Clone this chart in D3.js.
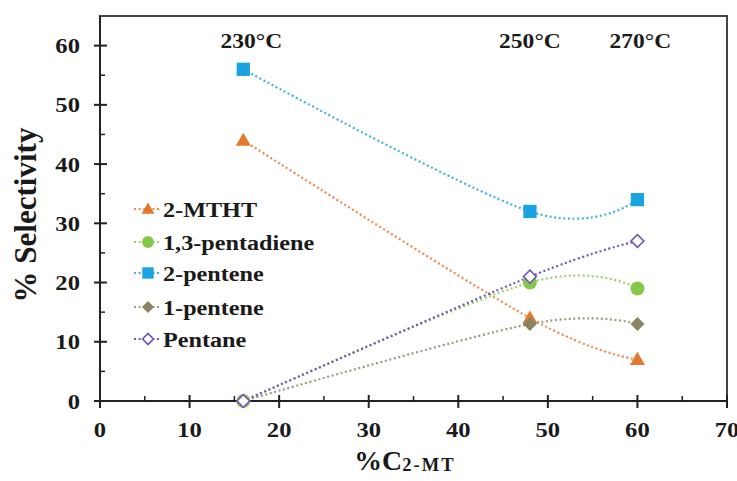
<!DOCTYPE html>
<html>
<head>
<meta charset="utf-8">
<script src="https://cdn.jsdelivr.net/npm/d3@7"></script>
<style>
  html, body { margin: 0; padding: 0; background: #fff; }
  svg { display: block; }
  text { font-family: "Liberation Serif", "Times New Roman", serif; font-weight: bold; fill: #1a1a1a; }
</style>
</head>
<body>
<svg id="chart" width="737" height="481"></svg>
<script>
// Conversion of 2-MT (%) at each reaction temperature
const conversion = [16, 48, 60];
const temperatures = ["230°C", "250°C", "270°C"];

// Product selectivity (%) for each product
const seriesNames = ["2-MTHT", "1,3-pentadiene", "2-pentene", "1-pentene", "Pentane"];
const mthtSel = [44, 14, 7];
const pentadieneSel = [0, 20, 19];
const twoPenteneSel = [56, 32, 34];
const onePenteneSel = [0, 13, 13];
const pentaneSel = [0, 21, 27];

// Axis ticks
const xTicks = [0, 10, 20, 30, 40, 50, 60, 70];
const yTicks = [0, 10, 20, 30, 40, 50, 60];

const series = [
  { name: seriesNames[0], values: mthtSel, color: "#E5782F", line: "#EE8A4A", shape: "triangle" },
  { name: seriesNames[1], values: pentadieneSel, color: "#86C94A", line: "#9AD46A", shape: "circle" },
  { name: seriesNames[2], values: twoPenteneSel, color: "#1AA3E0", line: "#3FB2E8", shape: "square" },
  { name: seriesNames[3], values: onePenteneSel, color: "#8A8460", line: "#A09A78", shape: "diamond" },
  { name: seriesNames[4], values: pentaneSel, color: "#7156B8", line: "#7156B8", shape: "openDiamond" }
];

const svg = d3.select("#chart");
const plotLeft = 100, plotRight = 727, plotTop = 16, plotBottom = 401;

const x = d3.scaleLinear().domain([0, 70]).range([plotLeft, plotRight]);
const y = d3.scaleLinear().domain([0, 65]).range([plotBottom, plotTop]);

const sx = 1.12; // horizontal stretch applied to text

// Plot frame
svg.append("rect")
  .attr("x", plotLeft).attr("y", plotTop)
  .attr("width", plotRight - plotLeft).attr("height", plotBottom - plotTop)
  .attr("fill", "none").attr("stroke", "#444").attr("stroke-width", 2);

// Y axis
const yAxis = svg.append("g");
yAxis.append("line").attr("x1", plotLeft).attr("x2", plotLeft).attr("y1", plotTop).attr("y2", plotBottom)
  .attr("stroke", "#222").attr("stroke-width", 2);
yTicks.forEach(v => {
  yAxis.append("line").attr("x1", plotLeft - 6).attr("x2", plotLeft + 7)
    .attr("y1", y(v)).attr("y2", y(v)).attr("stroke", "#222").attr("stroke-width", 2);
  yAxis.append("text")
    .attr("transform", `translate(${plotLeft - 20},${y(v) + 7.5}) scale(${sx},1)`)
    .attr("text-anchor", "end").attr("font-size", 22).text(v);
});
d3.range(5, 65, 10).forEach(v => {
  yAxis.append("line").attr("x1", plotLeft).attr("x2", plotLeft + 5)
    .attr("y1", y(v)).attr("y2", y(v)).attr("stroke", "#222").attr("stroke-width", 1.5);
});

// X axis
const xAxis = svg.append("g");
xAxis.append("line").attr("x1", plotLeft).attr("x2", plotRight).attr("y1", plotBottom).attr("y2", plotBottom)
  .attr("stroke", "#222").attr("stroke-width", 2);
xTicks.forEach(v => {
  xAxis.append("line").attr("x1", x(v)).attr("x2", x(v))
    .attr("y1", plotBottom - 6).attr("y2", plotBottom + 7).attr("stroke", "#222").attr("stroke-width", 2);
  xAxis.append("text")
    .attr("transform", `translate(${x(v)},${plotBottom + 36}) scale(${sx},1)`)
    .attr("text-anchor", "middle").attr("font-size", 22).text(v);
});
d3.range(5, 70, 10).forEach(v => {
  xAxis.append("line").attr("x1", x(v)).attr("x2", x(v))
    .attr("y1", plotBottom - 5).attr("y2", plotBottom).attr("stroke", "#222").attr("stroke-width", 1.5);
});

// Axis titles
svg.append("text")
  .attr("transform", `translate(36,215) rotate(-90)`)
  .attr("text-anchor", "middle").attr("font-size", 31).text("% Selectivity");

const xTitle = svg.append("text")
  .attr("transform", `translate(405,470) scale(1.03,1)`)
  .attr("text-anchor", "middle").attr("font-size", 27);
xTitle.append("tspan").text("%C");
xTitle.append("tspan").attr("font-size", 18).attr("dy", 1).attr("letter-spacing", 2).text("2-MT");

// Temperature annotations above each conversion point
const tempOffsets = [8, 0, 3];
temperatures.forEach((t, i) => {
  svg.append("text")
    .attr("transform", `translate(${x(conversion[i]) + tempOffsets[i]},48) scale(${sx},1)`)
    .attr("text-anchor", "middle").attr("font-size", 21).text(t);
});

// Marker factory
function marker(g, shape, color, s) {
  const sq = d3.symbol().type(d3.symbolSquare);
  if (shape === "triangle") {
    g.append("path").attr("d", d3.symbol().type(d3.symbolTriangle).size(s * s * 0.5)())
      .attr("transform", "translate(0,1)")
      .attr("fill", color);
  } else if (shape === "circle") {
    g.append("path").attr("d", d3.symbol().type(d3.symbolCircle).size(Math.PI * s * s / 4)())
      .attr("fill", color);
  } else if (shape === "square") {
    g.append("path").attr("d", sq.size(s * s * 0.9)()).attr("fill", color);
  } else if (shape === "diamond") {
    g.append("path").attr("d", sq.size(s * s * 0.5)()).attr("transform", "rotate(45)")
      .attr("fill", color);
  } else if (shape === "openDiamond") {
    g.append("path").attr("d", sq.size(s * s * 0.42)()).attr("transform", "rotate(45)")
      .attr("fill", "#fff").attr("stroke", color).attr("stroke-width", 1.6);
  }
}

// Smoothed dotted series lines
const line = d3.line()
  .x(d => x(d[0])).y(d => y(d[1]))
  .curve(d3.curveCardinal.tension(0));

const lines = svg.append("g");
series.forEach(s => {
  const pts = conversion.map((c, i) => [c, s.values[i]]);
  lines.append("path").datum(pts)
    .attr("d", line)
    .attr("fill", "none").attr("stroke", s.line)
    .attr("stroke-width", 2.2).attr("stroke-dasharray", "2,2.6");
});

// Markers
const marks = svg.append("g");
series.forEach(s => {
  conversion.forEach((c, i) => {
    const g = marks.append("g").attr("transform", `translate(${x(c)},${y(s.values[i])})`);
    marker(g, s.shape, s.color, 14);
  });
});

// Legend
const legend = svg.append("g");
const legendRows = [209, 242, 273, 307, 339];
series.forEach((s, i) => {
  const ly = legendRows[i];
  legend.append("line").attr("x1", 134).attr("x2", 161).attr("y1", ly).attr("y2", ly)
    .attr("stroke", s.line).attr("stroke-width", 2.2).attr("stroke-dasharray", "2,2.6");
  const g = legend.append("g").attr("transform", `translate(148,${ly})`);
  marker(g, s.shape, s.color, 12);
  legend.append("text")
    .attr("transform", `translate(163,${ly + 7.5}) scale(1.1,1)`)
    .attr("font-size", 22).text(s.name);
});
</script>
</body>
</html>
